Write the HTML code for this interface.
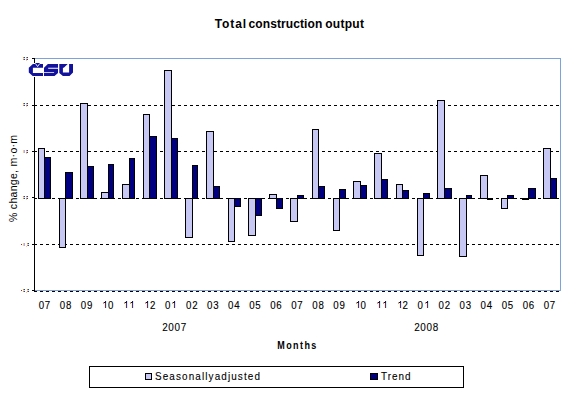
<!DOCTYPE html>
<html><head><meta charset="utf-8">
<style>
html,body{margin:0;padding:0;background:#fff;}
body{width:581px;height:395px;overflow:hidden;position:relative;}
svg{position:absolute;left:0;top:0;}
text{font-family:"Liberation Sans",sans-serif;}
</style></head><body>
<svg width="581" height="395" viewBox="0 0 581 395" shape-rendering="crispEdges">
<rect x="0" y="0" width="581" height="395" fill="#fff"/>
<g font-size="12" font-weight="bold" fill="#000">
<text x="214.7" y="28" letter-spacing="0.9">Total</text>
<text x="248.6" y="28" letter-spacing="0.09">construction</text>
<text x="325.2" y="28" letter-spacing="0.28">output</text>
</g>
<line x1="34" y1="105.5" x2="560" y2="105.5" stroke="#000" stroke-width="1" stroke-dasharray="3 3"/>
<line x1="34" y1="151.5" x2="560" y2="151.5" stroke="#000" stroke-width="1" stroke-dasharray="3 3"/>
<line x1="34" y1="198.5" x2="560" y2="198.5" stroke="#000" stroke-width="1" stroke-dasharray="3 3"/>
<line x1="34" y1="244.5" x2="560" y2="244.5" stroke="#000" stroke-width="1" stroke-dasharray="3 3"/>
<line x1="34" y1="291.5" x2="560" y2="291.5" stroke="#000" stroke-width="1" stroke-dasharray="3 3"/>
<polyline points="34,58.5 560.5,58.5 560.5,290.5 34,290.5" fill="none" stroke="#7ea3da" stroke-width="1"/>
<line x1="34.5" y1="58" x2="34.5" y2="291" stroke="#000" stroke-width="1"/>
<line x1="32" y1="58.5" x2="35" y2="58.5" stroke="#000" stroke-width="1"/>
<line x1="32" y1="105.5" x2="35" y2="105.5" stroke="#000" stroke-width="1"/>
<line x1="32" y1="151.5" x2="35" y2="151.5" stroke="#000" stroke-width="1"/>
<line x1="32" y1="197.5" x2="35" y2="197.5" stroke="#000" stroke-width="1"/>
<line x1="32" y1="244.5" x2="35" y2="244.5" stroke="#000" stroke-width="1"/>
<line x1="32" y1="290.5" x2="35" y2="290.5" stroke="#000" stroke-width="1"/>
<rect x="38.5" y="148.5" width="6" height="50" fill="#c8c8f4" stroke="#000" stroke-width="1"/>
<rect x="44.5" y="157.5" width="6" height="41" fill="#000080" stroke="#000" stroke-width="1"/>
<rect x="59.5" y="198.5" width="6" height="49" fill="#c8c8f4" stroke="#000" stroke-width="1"/>
<rect x="65.5" y="172.5" width="7" height="26" fill="#000080" stroke="#000" stroke-width="1"/>
<rect x="80.5" y="103.5" width="7" height="95" fill="#c8c8f4" stroke="#000" stroke-width="1"/>
<rect x="87.5" y="166.5" width="6" height="32" fill="#000080" stroke="#000" stroke-width="1"/>
<rect x="101.5" y="192.5" width="7" height="6" fill="#c8c8f4" stroke="#000" stroke-width="1"/>
<rect x="108.5" y="164.5" width="5" height="34" fill="#000080" stroke="#000" stroke-width="1"/>
<rect x="122.5" y="184.5" width="7" height="14" fill="#c8c8f4" stroke="#000" stroke-width="1"/>
<rect x="129.5" y="158.5" width="5" height="40" fill="#000080" stroke="#000" stroke-width="1"/>
<rect x="143.5" y="114.5" width="6" height="84" fill="#c8c8f4" stroke="#000" stroke-width="1"/>
<rect x="149.5" y="136.5" width="7" height="62" fill="#000080" stroke="#000" stroke-width="1"/>
<rect x="164.5" y="70.5" width="7" height="128" fill="#c8c8f4" stroke="#000" stroke-width="1"/>
<rect x="171.5" y="138.5" width="6" height="60" fill="#000080" stroke="#000" stroke-width="1"/>
<rect x="185.5" y="198.5" width="7" height="39" fill="#c8c8f4" stroke="#000" stroke-width="1"/>
<rect x="192.5" y="165.5" width="5" height="33" fill="#000080" stroke="#000" stroke-width="1"/>
<rect x="206.5" y="131.5" width="7" height="67" fill="#c8c8f4" stroke="#000" stroke-width="1"/>
<rect x="213.5" y="186.5" width="6" height="12" fill="#000080" stroke="#000" stroke-width="1"/>
<rect x="228.5" y="198.5" width="6" height="43" fill="#c8c8f4" stroke="#000" stroke-width="1"/>
<rect x="234.5" y="198.5" width="6" height="8" fill="#000080" stroke="#000" stroke-width="1"/>
<rect x="248.5" y="198.5" width="7" height="37" fill="#c8c8f4" stroke="#000" stroke-width="1"/>
<rect x="255.5" y="198.5" width="6" height="17" fill="#000080" stroke="#000" stroke-width="1"/>
<rect x="269.5" y="194.5" width="7" height="4" fill="#c8c8f4" stroke="#000" stroke-width="1"/>
<rect x="276.5" y="198.5" width="6" height="10" fill="#000080" stroke="#000" stroke-width="1"/>
<rect x="290.5" y="198.5" width="7" height="23" fill="#c8c8f4" stroke="#000" stroke-width="1"/>
<rect x="297.5" y="195.5" width="6" height="3" fill="#000080" stroke="#000" stroke-width="1"/>
<rect x="312.5" y="129.5" width="6" height="69" fill="#c8c8f4" stroke="#000" stroke-width="1"/>
<rect x="318.5" y="186.5" width="6" height="12" fill="#000080" stroke="#000" stroke-width="1"/>
<rect x="333.5" y="198.5" width="6" height="32" fill="#c8c8f4" stroke="#000" stroke-width="1"/>
<rect x="339.5" y="189.5" width="6" height="9" fill="#000080" stroke="#000" stroke-width="1"/>
<rect x="353.5" y="181.5" width="7" height="17" fill="#c8c8f4" stroke="#000" stroke-width="1"/>
<rect x="360.5" y="185.5" width="6" height="13" fill="#000080" stroke="#000" stroke-width="1"/>
<rect x="374.5" y="153.5" width="7" height="45" fill="#c8c8f4" stroke="#000" stroke-width="1"/>
<rect x="381.5" y="179.5" width="6" height="19" fill="#000080" stroke="#000" stroke-width="1"/>
<rect x="396.5" y="184.5" width="6" height="14" fill="#c8c8f4" stroke="#000" stroke-width="1"/>
<rect x="402.5" y="190.5" width="6" height="8" fill="#000080" stroke="#000" stroke-width="1"/>
<rect x="417.5" y="198.5" width="6" height="57" fill="#c8c8f4" stroke="#000" stroke-width="1"/>
<rect x="423.5" y="193.5" width="6" height="5" fill="#000080" stroke="#000" stroke-width="1"/>
<rect x="437.5" y="100.5" width="7" height="98" fill="#c8c8f4" stroke="#000" stroke-width="1"/>
<rect x="444.5" y="188.5" width="7" height="10" fill="#000080" stroke="#000" stroke-width="1"/>
<rect x="459.5" y="198.5" width="7" height="58" fill="#c8c8f4" stroke="#000" stroke-width="1"/>
<rect x="466.5" y="195.5" width="5" height="3" fill="#000080" stroke="#000" stroke-width="1"/>
<rect x="480.5" y="175.5" width="7" height="23" fill="#c8c8f4" stroke="#000" stroke-width="1"/>
<rect x="487.5" y="198.5" width="5" height="1" fill="#000080" stroke="#000" stroke-width="1"/>
<rect x="501.5" y="198.5" width="6" height="10" fill="#c8c8f4" stroke="#000" stroke-width="1"/>
<rect x="507.5" y="195.5" width="6" height="3" fill="#000080" stroke="#000" stroke-width="1"/>
<rect x="522.5" y="198.5" width="6" height="1" fill="#c8c8f4" stroke="#000" stroke-width="1"/>
<rect x="528.5" y="188.5" width="7" height="10" fill="#000080" stroke="#000" stroke-width="1"/>
<rect x="543.5" y="148.5" width="7" height="50" fill="#c8c8f4" stroke="#000" stroke-width="1"/>
<rect x="550.5" y="178.5" width="6" height="20" fill="#000080" stroke="#000" stroke-width="1"/>
<text transform="translate(41.44,309) scale(0.88,1)" x="0" y="0" font-size="11" text-anchor="middle" fill="#000" stroke="#000" stroke-width="0.12">0</text>
<text transform="translate(47.56,309) scale(0.88,1)" x="0" y="0" font-size="11" text-anchor="middle" fill="#000" stroke="#000" stroke-width="0.12">7</text>
<text transform="translate(62.48,309) scale(0.88,1)" x="0" y="0" font-size="11" text-anchor="middle" fill="#000" stroke="#000" stroke-width="0.12">0</text>
<text transform="translate(68.60,309) scale(0.88,1)" x="0" y="0" font-size="11" text-anchor="middle" fill="#000" stroke="#000" stroke-width="0.12">8</text>
<text transform="translate(83.52,309) scale(0.88,1)" x="0" y="0" font-size="11" text-anchor="middle" fill="#000" stroke="#000" stroke-width="0.12">0</text>
<text transform="translate(89.64,309) scale(0.88,1)" x="0" y="0" font-size="11" text-anchor="middle" fill="#000" stroke="#000" stroke-width="0.12">9</text>
<rect x="104" y="303" width="1" height="5" fill="#fff4d0"/>
<rect x="106" y="301" width="1" height="7" fill="#c8f4ff"/>
<rect x="105" y="301" width="1" height="7" fill="#6a2a66"/>
<rect x="105" y="301" width="1" height="2" fill="#2a0a50"/>
<rect x="104" y="302" width="1" height="1" fill="#101010"/>
<rect x="103" y="302" width="1" height="1" fill="#f0a860"/>
<rect x="103" y="303" width="1" height="1" fill="#a8a8e0"/>
<text transform="translate(110.68,309) scale(0.88,1)" x="0" y="0" font-size="11" text-anchor="middle" fill="#000" stroke="#000" stroke-width="0.12">0</text>
<rect x="125" y="303" width="1" height="5" fill="#fff4d0"/>
<rect x="127" y="301" width="1" height="7" fill="#c8f4ff"/>
<rect x="126" y="301" width="1" height="7" fill="#6a2a66"/>
<rect x="126" y="301" width="1" height="2" fill="#2a0a50"/>
<rect x="125" y="302" width="1" height="1" fill="#101010"/>
<rect x="124" y="302" width="1" height="1" fill="#f0a860"/>
<rect x="124" y="303" width="1" height="1" fill="#a8a8e0"/>
<rect x="131" y="303" width="1" height="5" fill="#fff4d0"/>
<rect x="133" y="301" width="1" height="7" fill="#c8f4ff"/>
<rect x="132" y="301" width="1" height="7" fill="#6a2a66"/>
<rect x="132" y="301" width="1" height="2" fill="#2a0a50"/>
<rect x="131" y="302" width="1" height="1" fill="#101010"/>
<rect x="130" y="302" width="1" height="1" fill="#f0a860"/>
<rect x="130" y="303" width="1" height="1" fill="#a8a8e0"/>
<rect x="146" y="303" width="1" height="5" fill="#fff4d0"/>
<rect x="148" y="301" width="1" height="7" fill="#c8f4ff"/>
<rect x="147" y="301" width="1" height="7" fill="#6a2a66"/>
<rect x="147" y="301" width="1" height="2" fill="#2a0a50"/>
<rect x="146" y="302" width="1" height="1" fill="#101010"/>
<rect x="145" y="302" width="1" height="1" fill="#f0a860"/>
<rect x="145" y="303" width="1" height="1" fill="#a8a8e0"/>
<text transform="translate(152.76,309) scale(0.88,1)" x="0" y="0" font-size="11" text-anchor="middle" fill="#000" stroke="#000" stroke-width="0.12">2</text>
<text transform="translate(167.68,309) scale(0.88,1)" x="0" y="0" font-size="11" text-anchor="middle" fill="#000" stroke="#000" stroke-width="0.12">0</text>
<rect x="173" y="303" width="1" height="5" fill="#fff4d0"/>
<rect x="175" y="301" width="1" height="7" fill="#c8f4ff"/>
<rect x="174" y="301" width="1" height="7" fill="#6a2a66"/>
<rect x="174" y="301" width="1" height="2" fill="#2a0a50"/>
<rect x="173" y="302" width="1" height="1" fill="#101010"/>
<rect x="172" y="302" width="1" height="1" fill="#f0a860"/>
<rect x="172" y="303" width="1" height="1" fill="#a8a8e0"/>
<text transform="translate(188.72,309) scale(0.88,1)" x="0" y="0" font-size="11" text-anchor="middle" fill="#000" stroke="#000" stroke-width="0.12">0</text>
<text transform="translate(194.84,309) scale(0.88,1)" x="0" y="0" font-size="11" text-anchor="middle" fill="#000" stroke="#000" stroke-width="0.12">2</text>
<text transform="translate(209.76,309) scale(0.88,1)" x="0" y="0" font-size="11" text-anchor="middle" fill="#000" stroke="#000" stroke-width="0.12">0</text>
<text transform="translate(215.88,309) scale(0.88,1)" x="0" y="0" font-size="11" text-anchor="middle" fill="#000" stroke="#000" stroke-width="0.12">3</text>
<text transform="translate(230.80,309) scale(0.88,1)" x="0" y="0" font-size="11" text-anchor="middle" fill="#000" stroke="#000" stroke-width="0.12">0</text>
<text transform="translate(236.92,309) scale(0.88,1)" x="0" y="0" font-size="11" text-anchor="middle" fill="#000" stroke="#000" stroke-width="0.12">4</text>
<text transform="translate(251.84,309) scale(0.88,1)" x="0" y="0" font-size="11" text-anchor="middle" fill="#000" stroke="#000" stroke-width="0.12">0</text>
<text transform="translate(257.96,309) scale(0.88,1)" x="0" y="0" font-size="11" text-anchor="middle" fill="#000" stroke="#000" stroke-width="0.12">5</text>
<text transform="translate(272.88,309) scale(0.88,1)" x="0" y="0" font-size="11" text-anchor="middle" fill="#000" stroke="#000" stroke-width="0.12">0</text>
<text transform="translate(279.00,309) scale(0.88,1)" x="0" y="0" font-size="11" text-anchor="middle" fill="#000" stroke="#000" stroke-width="0.12">6</text>
<text transform="translate(293.92,309) scale(0.88,1)" x="0" y="0" font-size="11" text-anchor="middle" fill="#000" stroke="#000" stroke-width="0.12">0</text>
<text transform="translate(300.04,309) scale(0.88,1)" x="0" y="0" font-size="11" text-anchor="middle" fill="#000" stroke="#000" stroke-width="0.12">7</text>
<text transform="translate(314.96,309) scale(0.88,1)" x="0" y="0" font-size="11" text-anchor="middle" fill="#000" stroke="#000" stroke-width="0.12">0</text>
<text transform="translate(321.08,309) scale(0.88,1)" x="0" y="0" font-size="11" text-anchor="middle" fill="#000" stroke="#000" stroke-width="0.12">8</text>
<text transform="translate(336.00,309) scale(0.88,1)" x="0" y="0" font-size="11" text-anchor="middle" fill="#000" stroke="#000" stroke-width="0.12">0</text>
<text transform="translate(342.12,309) scale(0.88,1)" x="0" y="0" font-size="11" text-anchor="middle" fill="#000" stroke="#000" stroke-width="0.12">9</text>
<rect x="357" y="303" width="1" height="5" fill="#fff4d0"/>
<rect x="359" y="301" width="1" height="7" fill="#c8f4ff"/>
<rect x="358" y="301" width="1" height="7" fill="#6a2a66"/>
<rect x="358" y="301" width="1" height="2" fill="#2a0a50"/>
<rect x="357" y="302" width="1" height="1" fill="#101010"/>
<rect x="356" y="302" width="1" height="1" fill="#f0a860"/>
<rect x="356" y="303" width="1" height="1" fill="#a8a8e0"/>
<text transform="translate(363.16,309) scale(0.88,1)" x="0" y="0" font-size="11" text-anchor="middle" fill="#000" stroke="#000" stroke-width="0.12">0</text>
<rect x="378" y="303" width="1" height="5" fill="#fff4d0"/>
<rect x="380" y="301" width="1" height="7" fill="#c8f4ff"/>
<rect x="379" y="301" width="1" height="7" fill="#6a2a66"/>
<rect x="379" y="301" width="1" height="2" fill="#2a0a50"/>
<rect x="378" y="302" width="1" height="1" fill="#101010"/>
<rect x="377" y="302" width="1" height="1" fill="#f0a860"/>
<rect x="377" y="303" width="1" height="1" fill="#a8a8e0"/>
<rect x="384" y="303" width="1" height="5" fill="#fff4d0"/>
<rect x="386" y="301" width="1" height="7" fill="#c8f4ff"/>
<rect x="385" y="301" width="1" height="7" fill="#6a2a66"/>
<rect x="385" y="301" width="1" height="2" fill="#2a0a50"/>
<rect x="384" y="302" width="1" height="1" fill="#101010"/>
<rect x="383" y="302" width="1" height="1" fill="#f0a860"/>
<rect x="383" y="303" width="1" height="1" fill="#a8a8e0"/>
<rect x="399" y="303" width="1" height="5" fill="#fff4d0"/>
<rect x="401" y="301" width="1" height="7" fill="#c8f4ff"/>
<rect x="400" y="301" width="1" height="7" fill="#6a2a66"/>
<rect x="400" y="301" width="1" height="2" fill="#2a0a50"/>
<rect x="399" y="302" width="1" height="1" fill="#101010"/>
<rect x="398" y="302" width="1" height="1" fill="#f0a860"/>
<rect x="398" y="303" width="1" height="1" fill="#a8a8e0"/>
<text transform="translate(405.24,309) scale(0.88,1)" x="0" y="0" font-size="11" text-anchor="middle" fill="#000" stroke="#000" stroke-width="0.12">2</text>
<text transform="translate(420.16,309) scale(0.88,1)" x="0" y="0" font-size="11" text-anchor="middle" fill="#000" stroke="#000" stroke-width="0.12">0</text>
<rect x="426" y="303" width="1" height="5" fill="#fff4d0"/>
<rect x="428" y="301" width="1" height="7" fill="#c8f4ff"/>
<rect x="427" y="301" width="1" height="7" fill="#6a2a66"/>
<rect x="427" y="301" width="1" height="2" fill="#2a0a50"/>
<rect x="426" y="302" width="1" height="1" fill="#101010"/>
<rect x="425" y="302" width="1" height="1" fill="#f0a860"/>
<rect x="425" y="303" width="1" height="1" fill="#a8a8e0"/>
<text transform="translate(441.20,309) scale(0.88,1)" x="0" y="0" font-size="11" text-anchor="middle" fill="#000" stroke="#000" stroke-width="0.12">0</text>
<text transform="translate(447.32,309) scale(0.88,1)" x="0" y="0" font-size="11" text-anchor="middle" fill="#000" stroke="#000" stroke-width="0.12">2</text>
<text transform="translate(462.24,309) scale(0.88,1)" x="0" y="0" font-size="11" text-anchor="middle" fill="#000" stroke="#000" stroke-width="0.12">0</text>
<text transform="translate(468.36,309) scale(0.88,1)" x="0" y="0" font-size="11" text-anchor="middle" fill="#000" stroke="#000" stroke-width="0.12">3</text>
<text transform="translate(483.28,309) scale(0.88,1)" x="0" y="0" font-size="11" text-anchor="middle" fill="#000" stroke="#000" stroke-width="0.12">0</text>
<text transform="translate(489.40,309) scale(0.88,1)" x="0" y="0" font-size="11" text-anchor="middle" fill="#000" stroke="#000" stroke-width="0.12">4</text>
<text transform="translate(504.32,309) scale(0.88,1)" x="0" y="0" font-size="11" text-anchor="middle" fill="#000" stroke="#000" stroke-width="0.12">0</text>
<text transform="translate(510.44,309) scale(0.88,1)" x="0" y="0" font-size="11" text-anchor="middle" fill="#000" stroke="#000" stroke-width="0.12">5</text>
<text transform="translate(525.36,309) scale(0.88,1)" x="0" y="0" font-size="11" text-anchor="middle" fill="#000" stroke="#000" stroke-width="0.12">0</text>
<text transform="translate(531.48,309) scale(0.88,1)" x="0" y="0" font-size="11" text-anchor="middle" fill="#000" stroke="#000" stroke-width="0.12">6</text>
<text transform="translate(546.40,309) scale(0.88,1)" x="0" y="0" font-size="11" text-anchor="middle" fill="#000" stroke="#000" stroke-width="0.12">0</text>
<text transform="translate(552.52,309) scale(0.88,1)" x="0" y="0" font-size="11" text-anchor="middle" fill="#000" stroke="#000" stroke-width="0.12">7</text>
<text transform="translate(174.5,331) scale(0.9,1)" font-size="11" letter-spacing="0.75" text-anchor="middle" fill="#000" stroke="#000" stroke-width="0.1">2007</text>
<text transform="translate(426.5,331) scale(0.9,1)" font-size="11" letter-spacing="0.75" text-anchor="middle" fill="#000" stroke="#000" stroke-width="0.1">2008</text>
<text transform="translate(297.5,349) scale(0.9,1)" font-size="10" font-weight="bold" letter-spacing="1.6" text-anchor="middle" fill="#000">Months</text>
<text transform="translate(17.4,222) rotate(-90)" font-size="10.5" letter-spacing="0.3" fill="#000">% change, m·o·m</text>
<rect x="23" y="57" width="1" height="1" fill="#e08a2a"/>
<rect x="24" y="57" width="1" height="1" fill="#0a4fb0"/>
<rect x="23" y="58" width="1" height="1" fill="#f2d6e6"/>
<rect x="24" y="58" width="1" height="1" fill="#f2d6e6"/>
<rect x="23" y="59" width="1" height="1" fill="#e08a2a"/>
<rect x="24" y="59" width="1" height="1" fill="#0a4fb0"/>
<rect x="26" y="57" width="1" height="1" fill="#e08a2a"/>
<rect x="27" y="57" width="1" height="1" fill="#0a4fb0"/>
<rect x="26" y="58" width="1" height="1" fill="#f2d6e6"/>
<rect x="27" y="58" width="1" height="1" fill="#f2d6e6"/>
<rect x="26" y="59" width="1" height="1" fill="#e08a2a"/>
<rect x="27" y="59" width="1" height="1" fill="#0a4fb0"/>
<rect x="26" y="60" width="1" height="1" fill="#f7c79a"/>
<rect x="23" y="103" width="1" height="1" fill="#e08a2a"/>
<rect x="24" y="103" width="1" height="1" fill="#0a4fb0"/>
<rect x="23" y="104" width="1" height="1" fill="#f2d6e6"/>
<rect x="24" y="104" width="1" height="1" fill="#f2d6e6"/>
<rect x="23" y="105" width="1" height="1" fill="#e08a2a"/>
<rect x="24" y="105" width="1" height="1" fill="#0a4fb0"/>
<rect x="26" y="103" width="1" height="1" fill="#e08a2a"/>
<rect x="27" y="103" width="1" height="1" fill="#0a4fb0"/>
<rect x="26" y="104" width="1" height="1" fill="#f2d6e6"/>
<rect x="27" y="104" width="1" height="1" fill="#f2d6e6"/>
<rect x="26" y="105" width="1" height="1" fill="#e08a2a"/>
<rect x="27" y="105" width="1" height="1" fill="#0a4fb0"/>
<rect x="26" y="106" width="1" height="1" fill="#f7c79a"/>
<rect x="23" y="150" width="1" height="1" fill="#f7c79a"/>
<rect x="24" y="150" width="1" height="1" fill="#b4a8e6"/>
<rect x="23" y="151" width="1" height="1" fill="#f7c79a"/>
<rect x="24" y="151" width="1" height="1" fill="#b4a8e6"/>
<rect x="23" y="152" width="1" height="1" fill="#f7c79a"/>
<rect x="24" y="152" width="1" height="1" fill="#b4a8e6"/>
<rect x="26" y="150" width="1" height="1" fill="#e08a2a"/>
<rect x="27" y="150" width="1" height="1" fill="#0a4fb0"/>
<rect x="26" y="151" width="1" height="1" fill="#f2d6e6"/>
<rect x="27" y="151" width="1" height="1" fill="#f2d6e6"/>
<rect x="26" y="152" width="1" height="1" fill="#e08a2a"/>
<rect x="27" y="152" width="1" height="1" fill="#0a4fb0"/>
<rect x="26" y="153" width="1" height="1" fill="#f7c79a"/>
<rect x="23" y="196" width="1" height="1" fill="#e08a2a"/>
<rect x="24" y="196" width="1" height="1" fill="#0a4fb0"/>
<rect x="23" y="197" width="1" height="1" fill="#f2d6e6"/>
<rect x="24" y="197" width="1" height="1" fill="#f2d6e6"/>
<rect x="23" y="198" width="1" height="1" fill="#e08a2a"/>
<rect x="24" y="198" width="1" height="1" fill="#0a4fb0"/>
<rect x="26" y="196" width="1" height="1" fill="#e08a2a"/>
<rect x="27" y="196" width="1" height="1" fill="#0a4fb0"/>
<rect x="26" y="197" width="1" height="1" fill="#f2d6e6"/>
<rect x="27" y="197" width="1" height="1" fill="#f2d6e6"/>
<rect x="26" y="198" width="1" height="1" fill="#e08a2a"/>
<rect x="27" y="198" width="1" height="1" fill="#0a4fb0"/>
<rect x="26" y="199" width="1" height="1" fill="#f7c79a"/>
<rect x="21" y="244" width="1" height="1" fill="#9a3040"/>
<rect x="23" y="243" width="1" height="1" fill="#f7c79a"/>
<rect x="24" y="243" width="1" height="1" fill="#b4a8e6"/>
<rect x="23" y="244" width="1" height="1" fill="#f7c79a"/>
<rect x="24" y="244" width="1" height="1" fill="#b4a8e6"/>
<rect x="23" y="245" width="1" height="1" fill="#f7c79a"/>
<rect x="24" y="245" width="1" height="1" fill="#b4a8e6"/>
<rect x="27" y="243" width="1" height="1" fill="#e08a2a"/>
<rect x="28" y="243" width="1" height="1" fill="#0a4fb0"/>
<rect x="27" y="244" width="1" height="1" fill="#f2d6e6"/>
<rect x="28" y="244" width="1" height="1" fill="#f2d6e6"/>
<rect x="27" y="245" width="1" height="1" fill="#e08a2a"/>
<rect x="28" y="245" width="1" height="1" fill="#0a4fb0"/>
<rect x="26" y="246" width="1" height="1" fill="#f7c79a"/>
<rect x="21" y="290" width="1" height="1" fill="#9a3040"/>
<rect x="23" y="289" width="1" height="1" fill="#e08a2a"/>
<rect x="24" y="289" width="1" height="1" fill="#0a4fb0"/>
<rect x="23" y="290" width="1" height="1" fill="#f2d6e6"/>
<rect x="24" y="290" width="1" height="1" fill="#f2d6e6"/>
<rect x="23" y="291" width="1" height="1" fill="#e08a2a"/>
<rect x="24" y="291" width="1" height="1" fill="#0a4fb0"/>
<rect x="27" y="289" width="1" height="1" fill="#e08a2a"/>
<rect x="28" y="289" width="1" height="1" fill="#0a4fb0"/>
<rect x="27" y="290" width="1" height="1" fill="#f2d6e6"/>
<rect x="28" y="290" width="1" height="1" fill="#f2d6e6"/>
<rect x="27" y="291" width="1" height="1" fill="#e08a2a"/>
<rect x="28" y="291" width="1" height="1" fill="#0a4fb0"/>
<rect x="26" y="292" width="1" height="1" fill="#f7c79a"/>
<rect x="89.5" y="366.5" width="374" height="21" fill="#fff" stroke="#000" stroke-width="1"/>
<rect x="145.5" y="373.5" width="6" height="6" fill="#c8c8f4" stroke="#000" stroke-width="1"/>
<rect x="370.5" y="373.5" width="7" height="6" fill="#000080" stroke="#000" stroke-width="1"/>
<text transform="translate(155,380) scale(0.9,1)" font-size="11" letter-spacing="1.25" fill="#000" stroke="#000" stroke-width="0.1">Seasonallyadjusted</text>
<text transform="translate(381,380) scale(0.9,1)" font-size="11" letter-spacing="1.1" fill="#000" stroke="#000" stroke-width="0.1">Trend</text>
<rect x="27" y="63" width="48" height="14" fill="#fff"/>
<g fill="#12129c" shape-rendering="geometricPrecision"><path d="M32.9,64.1 L43,64.1 L43,67.8 L32.9,67.8 L32.9,73.1 L43,73.1 L43,76 L32.7,76 L28.8,72.6 L28.8,67.8 Z"/><path d="M35.2,63 L40,63 L37.6,66 Z"/><path d="M47.9,64.1 L58,64.1 L58,67.8 L48.2,67.8 L48.2,68.7 L58,68.7 L58,73.1 L54.5,76 L44,76 L44,72.8 L54.1,72.8 L54.1,71.9 L44,71.9 L44,67.8 Z"/><path d="M59.3,64.1 L67.7,64.1 L63.8,67.8 L62.9,67.8 L62.9,72.4 L69.1,72.4 L69.1,64.1 L73,64.1 L73,72.6 L69.5,76 L62.9,76 L59.3,73.1 Z"/></g>
<polyline points="35.8,64 37.6,66.6 39.4,64" fill="none" stroke="#fff" stroke-width="0.9" shape-rendering="geometricPrecision"/>
</svg>
</body></html>
